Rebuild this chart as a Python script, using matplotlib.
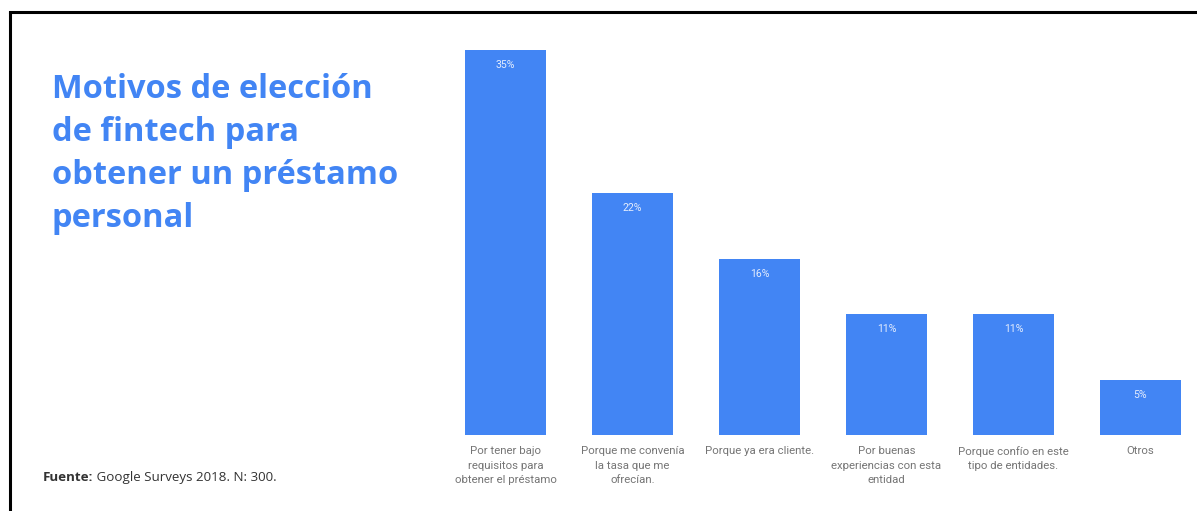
import matplotlib
matplotlib.use("Agg")
import matplotlib.pyplot as plt
from matplotlib.lines import Line2D

# Survey results: reasons for choosing a fintech for a personal loan
categories = [
    "Por tener bajo\nrequisitos para\nobtener el préstamo",
    "Porque me convenía\nla tasa que me\nofrecían.",
    "Porque ya era cliente.",
    "Por buenas\nexperiencias con esta\nentidad",
    "Porque confío en este\ntipo de entidades.",
    "Otros",
]
values = [35, 22, 16, 11, 11, 5]
value_labels = ["35%", "22%", "16%", "11%", "11%", "5%"]

title_lines = ["Motivos de elección", "de fintech para",
               "obtener un préstamo", "personal"]
source_bold = "Fuente:"
source_rest = " Google Surveys 2018. N: 300."

BLUE = "#4285F4"
W, H = 1197, 511

fig = plt.figure(figsize=(W / 100, H / 100), dpi=100)
fig.patch.set_facecolor("white")

# Bar axes
ax_left, ax_right = 442 / W, 1.0
ax_bottom, ax_top = 1 - 435 / H, 1 - 40 / H
ax = fig.add_axes([ax_left, ax_bottom, ax_right - ax_left, ax_top - ax_bottom])
x = list(range(len(categories)))
bars = ax.bar(x, values, width=0.645, color=BLUE, edgecolor="none")
ax.set_xlim(-0.5, 5.445)
ax.set_ylim(0, 35 * 395 / 385)
ax.axis("off")

for rect, lab in zip(bars, value_labels):
    ax.annotate(lab, (rect.get_x() + rect.get_width() / 2, rect.get_height()),
                xytext=(0, -7.5), textcoords="offset points",
                ha="center", va="top", color="#e3ecfd", fontsize=7.6,
                family="Roboto")

for xi, cat in zip(x, categories):
    ax.annotate(cat, (xi, 0), xytext=(0, -8), textcoords="offset points",
                ha="center", va="top", color="#757575", fontsize=8.2,
                family="Roboto", linespacing=1.56)

# Title block, one line per baseline
for i, line in enumerate(title_lines):
    fig.text(52 / W, 1 - (98 + 43 * i) / H, line, ha="left", va="baseline",
             color=BLUE, fontsize=23.5, fontweight="bold", family="Open Sans")

# Source note
t1 = fig.text(43 / W, 1 - 477 / H, source_bold, ha="left", va="center",
              color="#333333", fontsize=9.6, fontweight="bold", family="Open Sans")
fig.canvas.draw()
bb = t1.get_window_extent()
fig.text(bb.x1 / W, 1 - 477 / H, source_rest, ha="left", va="center",
         color="#333333", fontsize=9.6, family="Open Sans")

# Frame lines (top and left)
fig.add_artist(Line2D([10 / W, 1.0], [1 - 12.5 / H, 1 - 12.5 / H],
                      transform=fig.transFigure, color="black", lw=2.2))
fig.add_artist(Line2D([10 / W, 10 / W], [0, 1 - 12.5 / H],
                      transform=fig.transFigure, color="black", lw=2.2,
                      solid_capstyle="butt"))

fig.savefig("out.png", dpi=100, facecolor="white")
